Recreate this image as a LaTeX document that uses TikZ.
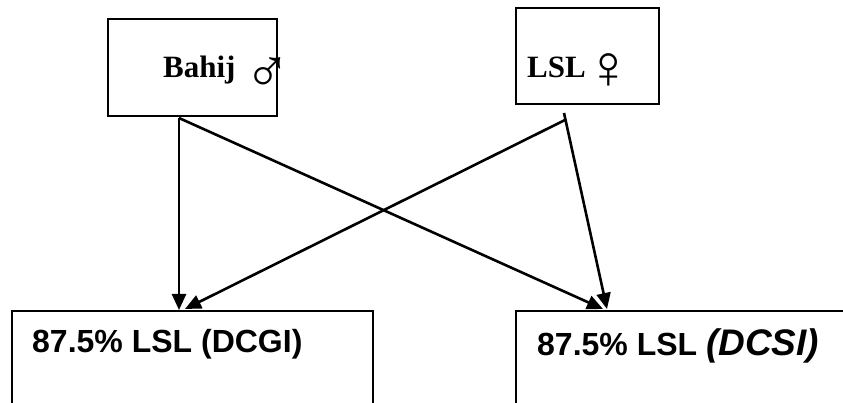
\documentclass[tikz,border=0pt]{standalone}
\usepackage{fontspec}
\setmainfont{Liberation Serif}
\setsansfont{Liberation Sans}
\usetikzlibrary{arrows.meta}

\tikzset{box/.style = {draw, line width=2pt, inner sep=0pt, anchor=north west},
	parent/.style = {font=\fontsize{31}{34}\selectfont\bfseries, anchor=base west, inner sep=0pt},
	child/.style = {font=\sffamily\fontsize{32}{34}\selectfont\bfseries, anchor=base west, inner sep=0pt},
	cross/.style = {line width=2.6pt, -{Triangle[length=16pt,width=14pt]}}}
\newcommand{\sexsign}[1]{{\fontsize{62}{64}\selectfont\mdseries #1}}

\begin{document}
\begin{tikzpicture}[x=1pt,y=-1pt]
	\useasboundingbox (0,0) rectangle (843,403);
	\clip (0,0) rectangle (843,403);
	\node[box, minimum width=169pt, minimum height=97pt] (bahij) at (107,18) {};
	\node[box, minimum width=143pt, minimum height=96pt] (lsl) at (515,7) {};
	\node[box, minimum width=361pt, minimum height=130pt] (dcgi) at (11,310) {};
	\node[box, minimum width=340pt, minimum height=130pt] (dcsi) at (515,310) {};

	\node[parent] (bahij-txt) at (163,78) {Bahij\hspace{9pt}\raisebox{-15pt}{\sexsign{♂}}};
	\node[parent] (lsl-txt) at (527,78) {LSL\hspace{0pt}\raisebox{-11pt}{\sexsign{♀}}};
	\node[child] (dcgi-txt) at (32,352) {87.5\% LSL (DCGI)};
	\node[child] (dcsi-txt) at (537,355) {87.5\% LSL {\fontsize{37}{40}\selectfont\itshape(DCSI)}};

	\coordinate (bahij-out) at (179,118);
	\coordinate (lsl-out) at (564,113);
	\coordinate (lsl-mid) at (565,120);
	\coordinate (dcgi-in) at (185,309);
	\coordinate (dcsi-a) at (603,309);
	\coordinate (dcsi-b) at (607,309);

	\draw[cross] (bahij-out) -- (bahij-out|-dcgi.north);
	\draw[cross] (bahij-out) -- (dcsi-a);
	\draw[cross] (lsl-mid) -- (dcgi-in);
	\draw[cross] (lsl-out) -- (dcsi-b);
\end{tikzpicture}
\end{document}
